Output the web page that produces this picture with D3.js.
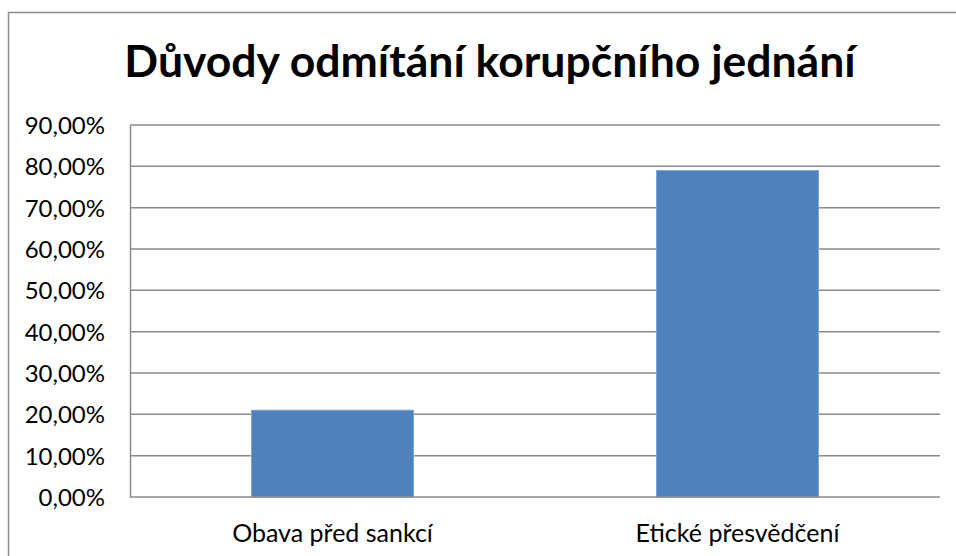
<!DOCTYPE html>
<html>
<head>
<meta charset="utf-8">
<script src="https://cdn.jsdelivr.net/npm/d3@7"></script>
<style>
  html, body { margin: 0; padding: 0; background: #fff; }
  svg { display: block; }
  text { font-family: Lato, "Noto Sans", sans-serif; fill: #000; }
</style>
</head>
<body>
<svg id="chart" width="956" height="556"></svg>
<script>
// Chart data
const title = "Důvody odmítání korupčního jednání";
const categories = ["Obava před sankcí", "Etické přesvědčení"];
const values = [0.21, 0.79];
const yTicks = [0, 0.1, 0.2, 0.3, 0.4, 0.5, 0.6, 0.7, 0.8, 0.9];

const svg = d3.select("#chart");
const W = 956, H = 556;
const plot = { left: 130, right: 940, top: 125, bottom: 497 };

// chart frame (runs past the right and bottom edges)
svg.append("rect")
  .attr("x", 8.5).attr("y", 12.5)
  .attr("width", W + 20).attr("height", H + 20)
  .attr("fill", "#fff").attr("stroke", "#8c8c8c").attr("stroke-width", 1.5);

const x = d3.scaleBand()
  .domain(categories)
  .range([plot.left, plot.right])
  .paddingInner(0.6).paddingOuter(0.3);

const y = d3.scaleLinear().domain([0, 0.9]).range([plot.bottom, plot.top]);

const fmt = v => (v * 100).toFixed(2).replace(".", ",") + "%";

// horizontal gridlines
svg.append("g")
  .selectAll("line")
  .data(yTicks.filter(t => t > 0))
  .join("line")
  .attr("x1", plot.left).attr("x2", plot.right)
  .attr("y1", d => y(d)).attr("y2", d => y(d))
  .attr("stroke", "#8a8a8a").attr("stroke-width", 1.5);

// y axis
const yAxis = svg.append("g")
  .attr("transform", `translate(${plot.left},0)`)
  .call(d3.axisLeft(y).tickValues(yTicks).tickFormat(fmt).tickSize(0).tickPadding(25));
yAxis.select(".domain").attr("stroke", "#8a8a8a").attr("stroke-width", 1.5);
yAxis.selectAll("text").style("font-size", "24px").attr("dy", "0.35em");

// bars
svg.append("g")
  .selectAll("rect")
  .data(values)
  .join("rect")
  .attr("x", (d, i) => x(categories[i]))
  .attr("y", d => y(d))
  .attr("width", x.bandwidth())
  .attr("height", d => y(0) - y(d))
  .attr("fill", "#4f81bd")
  .attr("stroke", "#7ea6d6").attr("stroke-width", 1);

// x axis
const xAxis = svg.append("g")
  .attr("transform", `translate(0,${plot.bottom})`)
  .call(d3.axisBottom(x).tickSize(0).tickPadding(27));
xAxis.select(".domain").attr("stroke", "#8a8a8a").attr("stroke-width", 1.5)
  .attr("d", `M${plot.left},0H${plot.right}`);
xAxis.selectAll("text").style("font-size", "25px").attr("dy", "0.71em");

// title
svg.append("text")
  .attr("x", (plot.left + plot.right) / 2 - 45)
  .attr("y", 77)
  .attr("text-anchor", "middle")
  .style("font-size", "44.5px")
  .style("font-weight", "700")
  .text(title);
</script>
</body>
</html>
